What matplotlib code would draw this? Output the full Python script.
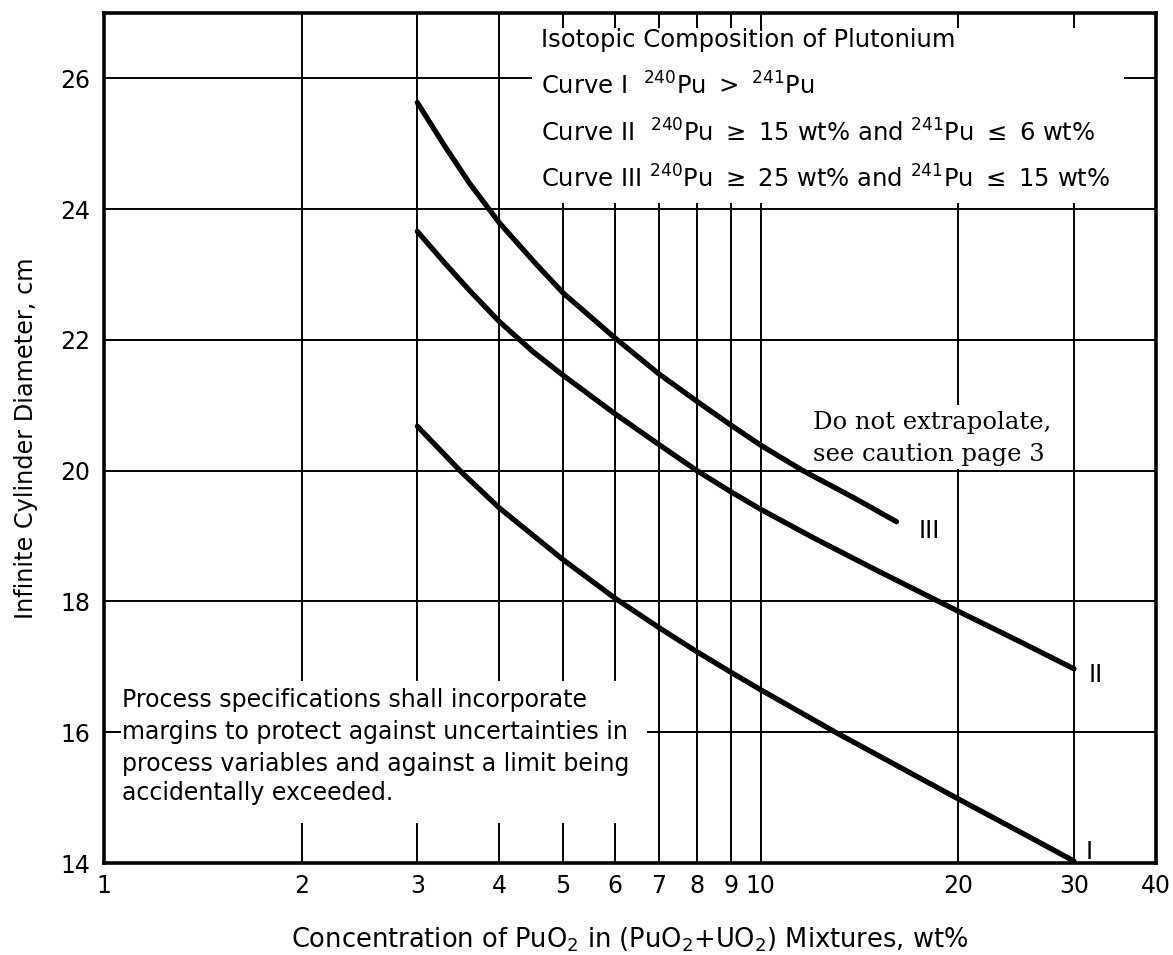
import matplotlib
matplotlib.use('Agg')
import matplotlib.pyplot as plt
from matplotlib.patches import Rectangle

plt.rcParams['font.family'] = ['DejaVu Sans']
plt.rcParams['mathtext.fontset'] = 'dejavusans'

# curve data (wt% PuO2 -> diameter cm)
x_I = [3.0, 3.5, 4.0, 5.0, 6.0, 7.0, 8.0, 9.0, 10.0, 13.0, 16.4, 20.0, 25.0, 30.0]
y_I = [20.68, 19.98, 19.43, 18.64, 18.05, 17.60, 17.23, 16.92, 16.65, 16.0, 15.45, 14.98, 14.46, 14.03]

x_II = [3.0, 3.3, 3.6, 4.0, 4.5, 5.0, 6.0, 7.0, 8.0, 9.0, 10.0, 12.0, 15.0, 20.0, 25.0, 30.0]
y_II = [23.66, 23.18, 22.76, 22.28, 21.82, 21.46, 20.87, 20.40, 20.0, 19.68, 19.41, 18.98, 18.48, 17.85, 17.37, 16.97]

x_III = [3.0, 3.3, 3.6, 4.0, 4.55, 5.0, 6.0, 7.0, 8.0, 9.0, 10.0, 11.6, 13.9, 16.1]
y_III = [25.63, 24.97, 24.40, 23.79, 23.16, 22.72, 22.03, 21.48, 21.06, 20.70, 20.39, 20.0, 19.58, 19.22]

x_ticks = [1, 2, 3, 4, 5, 6, 7, 8, 9, 10, 20, 30, 40]
y_ticks = [14, 16, 18, 20, 22, 24, 26]

fig = plt.figure(figsize=(11.73, 9.55), dpi=100)
ax = fig.add_axes([0.0887, 0.0963, 0.8968, 0.8901])
ax.set_xscale('log')
ax.set_xlim(1, 40)
ax.set_ylim(14, 27)

ax.set_xticks(x_ticks)
ax.set_xticklabels([str(t) for t in x_ticks])
ax.set_yticks(y_ticks)
ax.minorticks_off()
ax.tick_params(length=0, labelsize=17)
ax.tick_params(axis='x', pad=8)
ax.tick_params(axis='y', pad=10)
ax.grid(True, color='black', linewidth=1.4)

for s in ax.spines.values():
    s.set_linewidth(2.6)

# the three curves
for xs, ys in [(x_I, y_I), (x_II, y_II), (x_III, y_III)]:
    ax.plot(xs, ys, color='black', lw=3.8, zorder=3,
            solid_capstyle='round', solid_joinstyle='round')

# white areas behind the notes, cutting the grid
ax.add_patch(Rectangle((4.49, 24.1), 35.7 - 4.49, 26.77 - 24.1, facecolor='white', edgecolor='none', zorder=2))
ax.add_patch(Rectangle((1.06, 14.61), 6.71 - 1.06, 16.79 - 14.61, facecolor='white', edgecolor='none', zorder=2))
ax.add_patch(Rectangle((11.7, 20.02), 26.0 - 11.7, 21.0 - 20.02, facecolor='white', edgecolor='none', zorder=2))

fs = 17.5
ax.text(4.63, 26.58, 'Isotopic Composition of Plutonium', fontsize=fs, va='center', zorder=4)
ax.text(4.63, 25.89, r'Curve I  $^{240}$Pu $>$ $^{241}$Pu', fontsize=fs, va='center', zorder=4)
ax.text(4.63, 25.17, r'Curve II  $^{240}$Pu $\geq$ 15 wt% and $^{241}$Pu $\leq$ 6 wt%', fontsize=fs, va='center', zorder=4)
ax.text(4.63, 24.46, r'Curve III $^{240}$Pu $\geq$ 25 wt% and $^{241}$Pu $\leq$ 15 wt%', fontsize=fs, va='center', zorder=4)

notes = ['Process specifications shall incorporate',
         'margins to protect against uncertainties in',
         'process variables and against a limit being',
         'accidentally exceeded.']
for line, yy in zip(notes, [16.5, 16.0, 15.52, 15.07]):
    ax.text(1.065, yy, line, fontsize=17, va='center', zorder=4)

ax.text(12.0, 20.73, 'Do not extrapolate,', fontsize=17.5, family='DejaVu Serif', va='center', zorder=4)
ax.text(12.0, 20.25, 'see caution page 3', fontsize=17.5, family='DejaVu Serif', va='center', zorder=4)

ax.text(18.07, 19.08, 'III', fontsize=17, va='center', ha='center', zorder=4)
ax.text(32.4, 16.88, 'II', fontsize=17, va='center', ha='center', zorder=4)
ax.text(31.6, 14.17, 'I', fontsize=17, va='center', ha='center', zorder=4)

ax.set_xlabel(r'Concentration of PuO$_2$ in (PuO$_2$+UO$_2$) Mixtures, wt%', fontsize=18.5, labelpad=20)
ax.set_ylabel('Infinite Cylinder Diameter, cm', fontsize=17.3, labelpad=16)

fig.savefig('out.png', dpi=100)
